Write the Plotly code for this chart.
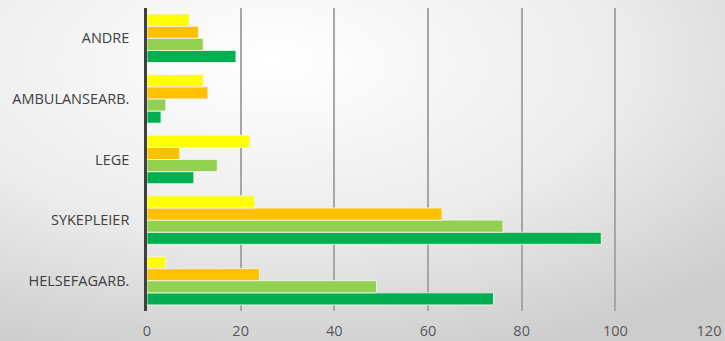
import plotly.graph_objects as go

categories = ['HELSEFAGARB.', 'SYKEPLEIER', 'LEGE', 'AMBULANSEARB.', 'ANDRE']

# series listed bottom bar first, as plotly stacks horizontal groups upward
series_green = [74, 97, 10, 3, 19]
series_lightgreen = [49, 76, 15, 4, 12]
series_orange = [24, 63, 7, 13, 11]
series_yellow = [4, 23, 22, 12, 9]

x_ticks = [0, 20, 40, 60, 80, 100, 120]

bg_svg = (
    "data:image/svg+xml;utf8,"
    "<svg xmlns='http://www.w3.org/2000/svg' width='745' height='361' viewBox='0 0 745 361' preserveAspectRatio='none'>"
    "<defs><radialGradient id='g' cx='0.38' cy='0.2' r='0.85' gradientUnits='objectBoundingBox'>"
    "<stop offset='0' stop-color='%23ffffff'/><stop offset='0.55' stop-color='%23ececec'/>"
    "<stop offset='1' stop-color='%23cdcdcd'/></radialGradient></defs>"
    "<rect width='745' height='361' fill='url(%23g)'/></svg>"
)

pw, ph = 725 - 147 - 16, 341 - 8 - 30

fig = go.Figure()
for name, vals, color in [
    ('green', series_green, '#00B050'),
    ('lightgreen', series_lightgreen, '#92D050'),
    ('orange', series_orange, '#FFC000'),
    ('yellow', series_yellow, '#FFFF00'),
]:
    fig.add_trace(go.Bar(
        y=categories, x=vals, orientation='h', name=name,
        marker=dict(color=color, line=dict(color='rgba(235,245,235,0.9)', width=1)),
    ))

fig.update_layout(
    width=725, height=341,
    barmode='group', bargap=0.2, bargroupgap=0.0,
    showlegend=False,
    paper_bgcolor='#d6d6d6', plot_bgcolor='rgba(0,0,0,0)',
    margin=dict(l=147, r=16, t=8, b=30),
    font=dict(family='Open Sans', size=14.5, color='#595959'),
    images=[dict(source=bg_svg, xref='paper', yref='paper', x=-157 / pw, y=1 + 18 / ph,
                 sizex=745 / pw, sizey=361 / ph, sizing='stretch', layer='below',
                 xanchor='left', yanchor='top')],
)
fig.update_xaxes(range=[0, 120], tickvals=x_ticks, showgrid=True, gridcolor='#a6a6a6',
                 gridwidth=1.5, zeroline=False, showline=False, ticks='', automargin=False,
                 ticklabelstandoff=9, tickfont=dict(size=14.5, color='#595959'))
fig.update_yaxes(showline=True, linecolor='#404040', linewidth=2.5, ticks='', automargin=False,
                 showgrid=False, ticklabelstandoff=12,
                 tickfont=dict(size=14.5, color='#404040'))

fig.write_html("out.html", config={'displayModeBar': False},
               post_script="document.body.style.margin='0';document.body.style.overflow='hidden';"
                           "document.body.style.background='#d6d6d6';")
